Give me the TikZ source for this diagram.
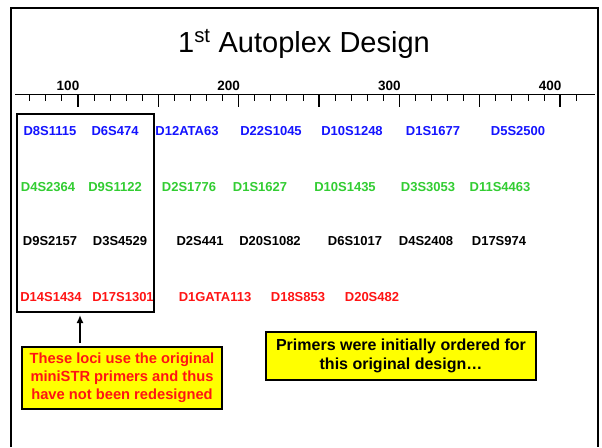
\documentclass[tikz,border=0pt]{standalone}
\usepackage{fontspec}
\setmainfont{Liberation Sans}
\usetikzlibrary{arrows.meta}
\definecolor{locblue}{RGB}{20,20,255}
\definecolor{locgreen}{RGB}{50,205,50}
\definecolor{locred}{RGB}{255,20,20}
\definecolor{noteyellow}{RGB}{255,255,0}
\tikzset{
  locus/.style={font=\fontsize{13}{15}\selectfont\bfseries, inner sep=0pt, anchor=center},
  bluel/.style={locus, text=locblue},
  greenl/.style={locus, text=locgreen},
  blackl/.style={locus, text=black},
  redl/.style={locus, text=locred},
  rulerlab/.style={font=\fontsize{13.5}{15}\selectfont\bfseries, inner sep=0pt},
  notebox/.style={draw=black, line width=1.6pt, fill=noteyellow, align=center, inner sep=0pt,
     font=\fontsize{14.7}{18}\selectfont\bfseries},
}
\begin{document}
\begin{tikzpicture}[x=1pt,y=-1pt]
\useasboundingbox (0,0) rectangle (602,447);
\fill[white] (0,0) rectangle (602,447);
% frame
\draw[line width=2.2pt] (11,447) -- (11,8) -- (598,8) -- (598,447);
% title
\node[font=\fontsize{29}{32}\selectfont, anchor=base, inner sep=0pt] (title) at (304,52) {1\textsuperscript{st} Autoplex Design};
% ruler
\draw[line width=1.3pt] (15,94.5) -- (595,94.5);
\foreach \v in {70,80,...,410} {
  \draw[line width=0.9pt] ({78+(\v-100)*1.607},94.5) -- ++(0,6.5);
}
\foreach \v in {100,150,...,400} {
  \draw[line width=1.3pt] ({78+(\v-100)*1.607},94.5) -- ++(0,12);
}
\foreach \v in {100,200,300,400} {
  \node[rulerlab] (r\v) at ({68+(\v-100)*1.607},86) {\v};
}
% row 1
\node[bluel] (a1) at (50,131) {D8S1115};
\node[bluel] (a2) at (115,131) {D6S474};
\node[bluel] (a3) at (187,131) {D12ATA63};
\node[bluel] (a4) at (271,131) {D22S1045};
\node[bluel] (a5) at (352,131) {D10S1248};
\node[bluel] (a6) at (433,131) {D1S1677};
\node[bluel] (a7) at (518,131) {D5S2500};
% row 2
\node[greenl] (b1) at (48,187) {D4S2364};
\node[greenl] (b2) at (115,187) {D9S1122};
\node[greenl] (b3) at (189,187) {D2S1776};
\node[greenl] (b4) at (260,187) {D1S1627};
\node[greenl] (b5) at (345,187) {D10S1435};
\node[greenl] (b6) at (428,187) {D3S3053};
\node[greenl] (b7) at (500,187) {D11S4463};
% row 3
\node[blackl] (c1) at (50,241) {D9S2157};
\node[blackl] (c2) at (120,241) {D3S4529};
\node[blackl] (c3) at (200,241) {D2S441};
\node[blackl] (c4) at (270,241) {D20S1082};
\node[blackl] (c5) at (355,241) {D6S1017};
\node[blackl] (c6) at (426,241) {D4S2408};
\node[blackl] (c7) at (499,241) {D17S974};
% row 4
\node[redl] (d1) at (51,297) {D14S1434};
\node[redl] (d2) at (123,297) {D17S1301};
\node[redl] (d3) at (215,297) {D1GATA113};
\node[redl] (d4) at (298,297) {D18S853};
\node[redl] (d5) at (372,297) {D20S482};
% box around original loci
\node[draw=black, line width=1.6pt, minimum width=137pt, minimum height=198pt, inner sep=0pt] (orig) at (85.5,213) {};
% notes
\node[notebox, text=locred, minimum width=200pt, minimum height=62pt] (note1) at (122,378)
  {These loci use the original\\miniSTR primers and thus\\have not been redesigned};
\node[notebox, text=black, minimum width=270pt, minimum height=48pt, font=\fontsize{16}{19.5}\selectfont\bfseries] (note2) at (401,356)
  {Primers were initially ordered for\\this original design\dots};
% arrow
\coordinate (arrS) at (80,343);
\coordinate (arrE) at (80,315);
\draw[line width=1.8pt, -{Latex[length=8pt,width=7pt]}] (arrS) -- (arrE);
\end{tikzpicture}
\end{document}
